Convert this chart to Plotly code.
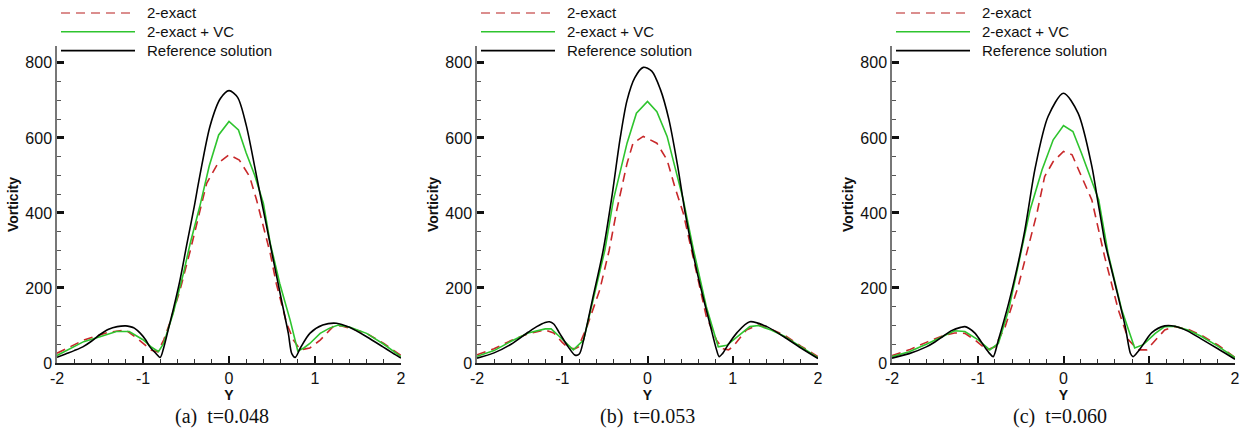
import plotly.graph_objects as go

# ---------------- data ----------------
# Panel (a) t=0.048
Y_REF_A = [-2.0, -1.9, -1.8, -1.7, -1.6, -1.5, -1.4, -1.3, -1.2, -1.15, -1.1, -1.03, -0.97, -0.92, -0.86,
           -0.80, -0.76, -0.70, -0.65, -0.57, -0.49, -0.41, -0.34, -0.22, -0.1, 0.0, 0.1, 0.2, 0.3, 0.36,
           0.42, 0.515, 0.61, 0.69, 0.73, 0.77, 0.83, 0.94, 1.09, 1.25, 1.4, 1.6, 1.79, 1.9, 2.0]
V_REF_A = [15, 24, 33, 43, 58, 76, 90, 97, 99, 97, 93, 79, 62, 43, 28,
           15, 40, 95, 141, 221, 317, 410, 498, 632, 705, 726, 708, 634, 522, 452,
           384, 275, 168, 79, 25, 15, 40, 79, 101, 106, 95, 70, 43, 27, 13]
Y_VC_A = [-2.0, -1.69, -1.5, -1.31, -1.16, -1.07, -1.0, -0.9, -0.82, -0.76, -0.65, -0.53, -0.45, -0.34,
          -0.23, -0.12, 0.0, 0.11, 0.2, 0.3, 0.4, 0.48, 0.59, 0.71, 0.80, 0.87, 0.94, 1.06, 1.17, 1.27,
          1.4, 1.6, 1.8, 2.0]
V_VC_A = [20, 57, 70, 84, 84, 72, 62, 42, 30, 52, 132, 239, 320, 417,
          525, 608, 644, 621, 560, 500, 425, 319, 212, 115, 32, 40, 52, 79, 93, 101,
          96, 79, 50, 17]
Y_EX_A = [-2.0, -1.69, -1.4, -1.2, -1.07, -1.0, -0.9, -0.83, -0.76, -0.69, -0.57, -0.45, -0.34, -0.26,
          -0.13, 0.0, 0.12, 0.24, 0.32, 0.4, 0.48, 0.55, 0.67, 0.75, 0.83, 0.94, 1.06, 1.21, 1.31, 1.45,
          1.6, 1.8, 2.0]
V_EX_A = [26, 61, 82, 88, 66, 52, 34, 30, 61, 106, 194, 300, 408, 479,
          532, 555, 541, 497, 435, 365, 292, 212, 106, 61, 35, 40, 61, 97, 99, 90,
          79, 52, 20]

# Panel (b) t=0.053
Y_REF_B = [-2.0, -1.8, -1.6, -1.4, -1.3, -1.2, -1.15, -1.1, -1.03, -0.93, -0.85, -0.80, -0.75, -0.64,
           -0.52, -0.42, -0.32, -0.24, -0.15, -0.05, 0.05, 0.15, 0.25, 0.35, 0.45, 0.55, 0.62,
           0.73, 0.81, 0.84, 0.88, 0.93, 1.05, 1.2, 1.4, 1.6, 1.8, 2.0]
V_REF_B = [13, 27, 50, 82, 97, 108, 110, 104, 79, 43, 21, 24, 61, 175,
           300, 440, 600, 700, 760, 788, 778, 730, 650, 530, 390, 275, 205,
           106, 35, 17, 25, 43, 81, 110, 97, 70, 40, 12]
Y_VC_B = [-2.0, -1.8, -1.6, -1.4, -1.2, -1.13, -1.03, -0.87, -0.75, -0.64, -0.5, -0.4, -0.24, -0.13,
          0.0, 0.11, 0.23, 0.42, 0.54, 0.69, 0.83, 0.93, 1.05, 1.2, 1.3, 1.45, 1.6, 1.8, 2.0]
V_VC_B = [18, 33, 58, 80, 91, 91, 70, 35, 61, 168, 301, 435, 586, 666,
          697, 670, 604, 435, 301, 150, 43, 47, 70, 97, 100, 88, 72, 42, 14]
Y_EX_B = [-2.0, -1.8, -1.6, -1.4, -1.2, -1.1, -1.0, -0.93, -0.85, -0.81, -0.71, -0.56, -0.45, -0.36,
          -0.24, -0.17, -0.05, 0.11, 0.23, 0.32, 0.42, 0.54, 0.69, 0.81, 0.88, 0.95, 1.0, 1.16, 1.3,
          1.45, 1.6, 1.8, 2.0]
V_EX_B = [22, 38, 60, 78, 88, 80, 55, 40, 38, 43, 97, 195, 300, 408,
          532, 586, 604, 586, 541, 470, 399, 275, 124, 61, 38, 35, 43, 88, 101,
          90, 75, 45, 17]

# Panel (c) t=0.060
Y_REF_C = [-2.0, -1.8, -1.6, -1.5, -1.4, -1.3, -1.2, -1.15, -1.1, -1.03, -0.92, -0.86, -0.82, -0.76,
           -0.64, -0.53, -0.45, -0.41, -0.33, -0.18, 0.0, 0.17, 0.33, 0.39, 0.45, 0.48, 0.6, 0.72,
           0.78, 0.81, 0.86, 0.91, 1.03, 1.18, 1.3, 1.45, 1.6, 1.8, 2.0]
V_REF_C = [13, 25, 43, 56, 72, 87, 95, 97, 92, 79, 43, 25, 17, 61,
           159, 265, 355, 410, 520, 657, 719, 666, 525, 445, 365, 325, 212, 97,
           26, 17, 28, 43, 81, 99, 98, 85, 65, 38, 10]
Y_VC_C = [-2.0, -1.8, -1.6, -1.4, -1.27, -1.15, -0.99, -0.86, -0.76, -0.64, -0.53, -0.39, -0.25, -0.12,
          0.0, 0.11, 0.21, 0.41, 0.52, 0.68, 0.83, 0.93, 1.07, 1.18, 1.3, 1.45, 1.6, 1.8, 2.0]
V_VC_C = [17, 30, 50, 72, 86, 84, 61, 35, 52, 141, 257, 408, 515, 595,
          633, 617, 559, 435, 292, 141, 40, 49, 79, 97, 98, 88, 72, 45, 14]
Y_EX_C = [-2.0, -1.8, -1.6, -1.4, -1.27, -1.15, -1.03, -0.89, -0.80, -0.68, -0.53, -0.42, -0.31, -0.22,
          -0.12, 0.0, 0.1, 0.21, 0.33, 0.48, 0.64, 0.76, 0.87, 0.97, 1.07, 1.18, 1.3, 1.45, 1.6,
          1.8, 2.0]
V_EX_C = [20, 35, 55, 73, 80, 79, 61, 35, 43, 97, 203, 300, 399, 497,
          537, 564, 555, 497, 435, 283, 141, 61, 35, 35, 61, 88, 97, 90, 75,
          48, 15]

SERIES_NAMES = ["2-exact", "2-exact + VC", "Reference solution"]
CAPTIONS = ["(a)\u2002t=0.048", "(b)\u2002t=0.053", "(c)\u2002t=0.060"]
X_TICKS = [-2, -1, 0, 1, 2]
X_TICK_TEXT = ["-2", "-1", "0", "1", "2"]
Y_TICKS = [0, 200, 400, 600, 800]
Y_TICK_TEXT = ["0", "200", "400", "600", "800"]

PANELS = [
    [(Y_EX_A, V_EX_A), (Y_VC_A, V_VC_A), (Y_REF_A, V_REF_A)],
    [(Y_EX_B, V_EX_B), (Y_VC_B, V_VC_B), (Y_REF_B, V_REF_B)],
    [(Y_EX_C, V_EX_C), (Y_VC_C, V_VC_C), (Y_REF_C, V_REF_C)],
]

# ---------------- styling ----------------
W, H = 1253, 430
LINE_STYLES = [
    dict(color="#c8282a", width=1.6, dash="9px,6px"),
    dict(color="#2ec42e", width=1.6),
    dict(color="#000000", width=1.6, shape="spline", smoothing=0.8),
]
LEGEND_COLORS = ["#d06a6a", "#2ec42e", "#000000"]
X_PIX = [(57, 401), (477, 818), (892, 1235)]
Y_TOP_PIX, Y_BOT_PIX = 46, 363
CAPTION_X = [222, 647, 1060]
SANS = "Liberation Sans, Arial, sans-serif"
SERIF = "Liberation Serif, Times New Roman, serif"

fig = go.Figure()
shapes, annotations = [], []
for i, panel in enumerate(PANELS):
    suffix = "" if i == 0 else str(i + 1)
    for (xs, ys), name, st in zip(panel, SERIES_NAMES, LINE_STYLES):
        fig.add_trace(go.Scatter(x=xs, y=ys, mode="lines", name=name, line=st,
                                 xaxis="x" + suffix, yaxis="y" + suffix, showlegend=False))
    x0, x1 = X_PIX[i]
    dom_x = [x0 / W, x1 / W]
    dom_y = [1 - Y_BOT_PIX / H, 1 - Y_TOP_PIX / H]
    fig.update_layout(**{
        "xaxis" + suffix: dict(
            domain=dom_x, anchor="y" + suffix, range=[-2, 2],
            tickmode="array", tickvals=X_TICKS, ticktext=X_TICK_TEXT,
            ticks="inside", ticklen=7, tickwidth=2, tickcolor="#111",
            minor=dict(tickmode="linear", tick0=-2, dtick=0.2, ticks="inside",
                       ticklen=4, tickwidth=1, tickcolor="#333"),
            showline=True, linecolor="#222", linewidth=2,
            showgrid=False, zeroline=False,
            tickfont=dict(family=SANS, size=16, color="#111"),
            title=dict(text="Y", standoff=1,
                       font=dict(family=SANS, size=14, color="#111", weight="bold")),
            automargin=False,
        ),
        "yaxis" + suffix: dict(
            domain=dom_y, anchor="x" + suffix, range=[0, 845],
            tickmode="array", tickvals=Y_TICKS, ticktext=Y_TICK_TEXT,
            ticks="inside", ticklen=7, tickwidth=2.5, tickcolor="#111",
            minor=dict(tickmode="linear", tick0=0, dtick=50, ticks="inside",
                       ticklen=4, tickwidth=1, tickcolor="#555"),
            showline=True, linecolor="#777", linewidth=1.5,
            showgrid=False, zeroline=False,
            tickfont=dict(family=SANS, size=16, color="#111"),
            title=dict(text="Vorticity", standoff=3,
                       font=dict(family=SANS, size=14, color="#111", weight="bold")),
            automargin=False,
        ),
    })
    # legend block (drawn manually so the sample lines are as long as in the reference)
    for j, (name, st, lc) in enumerate(zip(SERIES_NAMES, LINE_STYLES, LEGEND_COLORS)):
        yy = 1 - (13 + j * 18.8) / H
        shapes.append(dict(type="line", xref="paper", yref="paper",
                           x0=(x0 + 4) / W, x1=(x0 + 78) / W, y0=yy, y1=yy,
                           line=dict(color=lc, width=1.6, dash=st.get("dash", "solid"))))
        annotations.append(dict(text=name, xref="paper", yref="paper",
                                x=(x0 + 88) / W, y=yy, xanchor="left", yanchor="middle",
                                showarrow=False,
                                font=dict(family=SANS, size=15, color="#111")))
    annotations.append(dict(text=CAPTIONS[i], xref="paper", yref="paper",
                            x=CAPTION_X[i] / W, y=1 - 416 / H, xanchor="center", yanchor="middle",
                            showarrow=False, font=dict(family=SERIF, size=20, color="#111")))

fig.update_layout(width=W, height=H, margin=dict(l=0, r=0, t=0, b=0),
                  plot_bgcolor="white", paper_bgcolor="white", showlegend=False,
                  shapes=shapes, annotations=annotations)

fig.write_html("out.html", config={"displayModeBar": False},
               post_script="document.body.style.margin='0';document.body.style.overflow='hidden';")
